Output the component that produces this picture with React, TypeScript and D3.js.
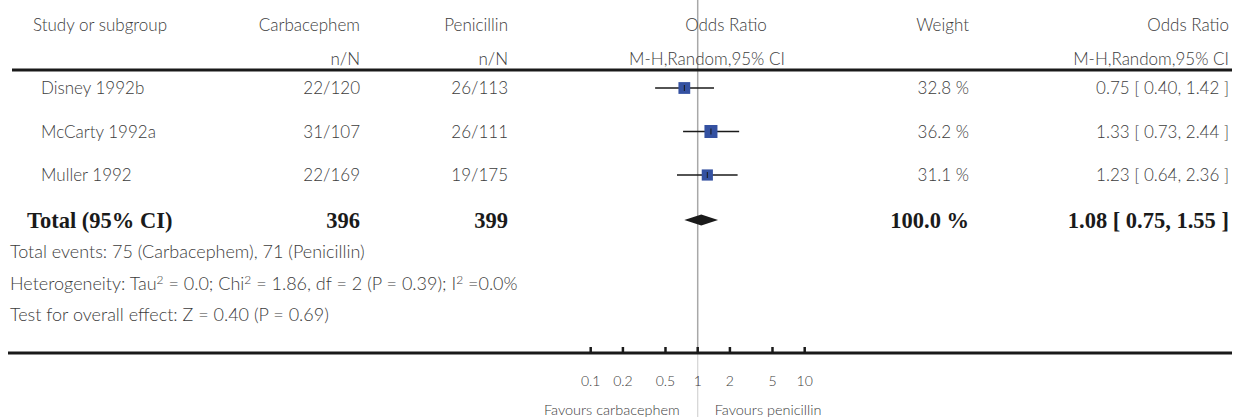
import { useEffect, useRef } from "react";
import * as d3 from "d3";

const studies = ["Disney 1992b", "McCarty 1992a", "Muller 1992"];
const carbaEvents = [22, 31, 22];
const carbaTotal = [120, 107, 169];
const peniEvents = [26, 26, 19];
const peniTotal = [113, 111, 175];
const oddsRatio = [0.75, 1.33, 1.23];
const ciLow = [0.4, 0.73, 0.64];
const ciHigh = [1.42, 2.44, 2.36];
const weights = [32.8, 36.2, 31.1];

const totalCarba = 396;
const totalPeni = 399;
const pooled = [0.75, 1.08, 1.55]; // low, estimate, high
const totalWeight = 100.0;

const tickValues = [0.1, 0.2, 0.5, 1, 2, 5, 10];
const footnotes = [
  "Total events: 75 (Carbacephem), 71 (Penicillin)",
  "Heterogeneity: Tau\u00b2 = 0.0; Chi\u00b2 = 1.86, df = 2 (P = 0.39); I\u00b2 =0.0%",
  "Test for overall effect: Z = 0.40 (P = 0.69)",
];

const LIGHT = "Lato, 'Open Sans', sans-serif";
const SERIF = "'Liberation Serif', 'Times New Roman', serif";

export default function App() {
  const ref = useRef<SVGSVGElement>(null);

  useEffect(() => {
    document.body.style.margin = "0";
    const width = 1235;
    const height = 417;
    const svg = d3.select(ref.current).attr("width", width).attr("height", height);
    svg.selectAll("*").remove();

    const x = d3.scaleLog().domain([0.01, 100]).range([483.7, 911.7]);
    const y = d3.scalePoint<string>().domain(studies).range([88, 175]);
    const size = d3.scaleLinear().domain([0, d3.max(weights) as number]).range([0, 13]);
    const fmt = d3.format(".2f");
    const txtColor = "#3c3c3c";

    const light = (s: string, tx: number, ty: number, anchor = "start", fs = 17) =>
      svg
        .append("text")
        .attr("x", tx)
        .attr("y", ty)
        .attr("text-anchor", anchor)
        .style("font-family", LIGHT)
        .style("font-weight", 300)
        .style("font-size", fs + "px")
        .style("fill", txtColor)
        .text(s);
    const bold = (s: string, tx: number, ty: number, anchor = "start") =>
      svg
        .append("text")
        .attr("x", tx)
        .attr("y", ty)
        .attr("text-anchor", anchor)
        .style("font-family", SERIF)
        .style("font-weight", 700)
        .style("font-size", "22.5px")
        .style("fill", "#1a1a1a")
        .text(s);

    // null line
    svg
      .append("line")
      .attr("x1", x(1)).attr("x2", x(1))
      .attr("y1", 0).attr("y2", 353)
      .attr("stroke", "#a8a8a8").attr("stroke-width", 1.5);
    svg
      .append("line")
      .attr("x1", x(1)).attr("x2", x(1))
      .attr("y1", 353).attr("y2", height)
      .attr("stroke", "#d4d4d4").attr("stroke-width", 1.2);

    // header
    light("Study or subgroup", 33, 31);
    light("Carbacephem", 360, 31, "end");
    light("n/N", 360, 65, "end");
    light("Penicillin", 508, 31, "end");
    light("n/N", 508, 65, "end");
    light("Odds Ratio", 726, 31, "middle");
    light("M-H,Random,95% CI", 707, 65, "middle");
    light("Weight", 969, 31, "end");
    light("Odds Ratio", 1229, 31, "end");
    light("M-H,Random,95% CI", 1229, 65, "end");

    svg
      .append("line")
      .attr("x1", 12).attr("x2", 1232)
      .attr("y1", 70).attr("y2", 70)
      .attr("stroke", "#1a1a1a").attr("stroke-width", 3);

    // study rows
    studies.forEach((s, i) => {
      const cy = y(s) as number;
      const ty = cy + 6;
      light(s, 41, ty);
      light(`${carbaEvents[i]}/${carbaTotal[i]}`, 360, ty, "end");
      light(`${peniEvents[i]}/${peniTotal[i]}`, 508, ty, "end");
      light(`${weights[i].toFixed(1)} %`, 969, ty, "end");
      light(`${fmt(oddsRatio[i])} [ ${fmt(ciLow[i])}, ${fmt(ciHigh[i])} ]`, 1229, ty, "end");

      svg
        .append("line")
        .attr("x1", x(ciLow[i])).attr("x2", x(ciHigh[i]))
        .attr("y1", cy).attr("y2", cy)
        .attr("stroke", "#1a1a1a").attr("stroke-width", 1.5);
      const sz = size(weights[i]);
      svg
        .append("rect")
        .attr("x", x(oddsRatio[i]) - sz / 2)
        .attr("y", cy - sz / 2)
        .attr("width", sz)
        .attr("height", sz)
        .attr("fill", "#3451a1");
      svg
        .append("line")
        .attr("x1", x(oddsRatio[i])).attr("x2", x(oddsRatio[i]))
        .attr("y1", cy - 3).attr("y2", cy + 3)
        .attr("stroke", "#1a1a1a").attr("stroke-width", 1);
    });

    // total row
    const totY = 220;
    bold("Total (95% CI)", 27, totY + 8);
    bold(String(totalCarba), 360, totY + 8, "end");
    bold(String(totalPeni), 508, totY + 8, "end");
    bold(`${totalWeight.toFixed(1)} %`, 969, totY + 8, "end");
    bold(`${fmt(pooled[1])} [ ${fmt(pooled[0])}, ${fmt(pooled[2])} ]`, 1229, totY + 8, "end");

    const diamond = d3.line()([
      [x(pooled[0]), totY],
      [x(pooled[1]), totY - 5.5],
      [x(pooled[2]), totY],
      [x(pooled[1]), totY + 5.5],
    ]);
    svg.append("path").attr("d", diamond + "Z").attr("fill", "#1a1a1a");

    // footnotes, with bigger superscript twos
    footnotes.forEach((f, i) => {
      const t = light("", 10, 258 + i * 31.5, "start", 18);
      f.split("\u00b2").forEach((part, j) => {
        if (j > 0) {
          t.append("tspan")
            .attr("dy", -6)
            .style("font-size", "12px")
            .text("2");
          t.append("tspan").attr("dy", 6).text(part);
        } else {
          t.append("tspan").text(part);
        }
      });
    });

    // axis
    svg
      .append("line")
      .attr("x1", 8).attr("x2", 1232)
      .attr("y1", 353).attr("y2", 353)
      .attr("stroke", "#1a1a1a").attr("stroke-width", 3);
    const axis = svg.append("g");
    tickValues.forEach((t) => {
      axis
        .append("line")
        .attr("x1", x(t)).attr("x2", x(t))
        .attr("y1", 347).attr("y2", 353)
        .attr("stroke", "#1a1a1a").attr("stroke-width", 2.5);
      axis
        .append("text")
        .attr("x", x(t))
        .attr("y", 386)
        .attr("text-anchor", "middle")
        .style("font-family", LIGHT)
        .style("font-weight", 300)
        .style("font-size", "14px")
        .style("fill", txtColor)
        .text(String(t));
    });
    light("Favours carbacephem", x(1) - 18, 415, "end", 14.5);
    light("Favours penicillin", x(1) + 17, 415, "start", 14.5);
  }, []);

  return <svg ref={ref} style={{ display: "block" }}></svg>;
}
